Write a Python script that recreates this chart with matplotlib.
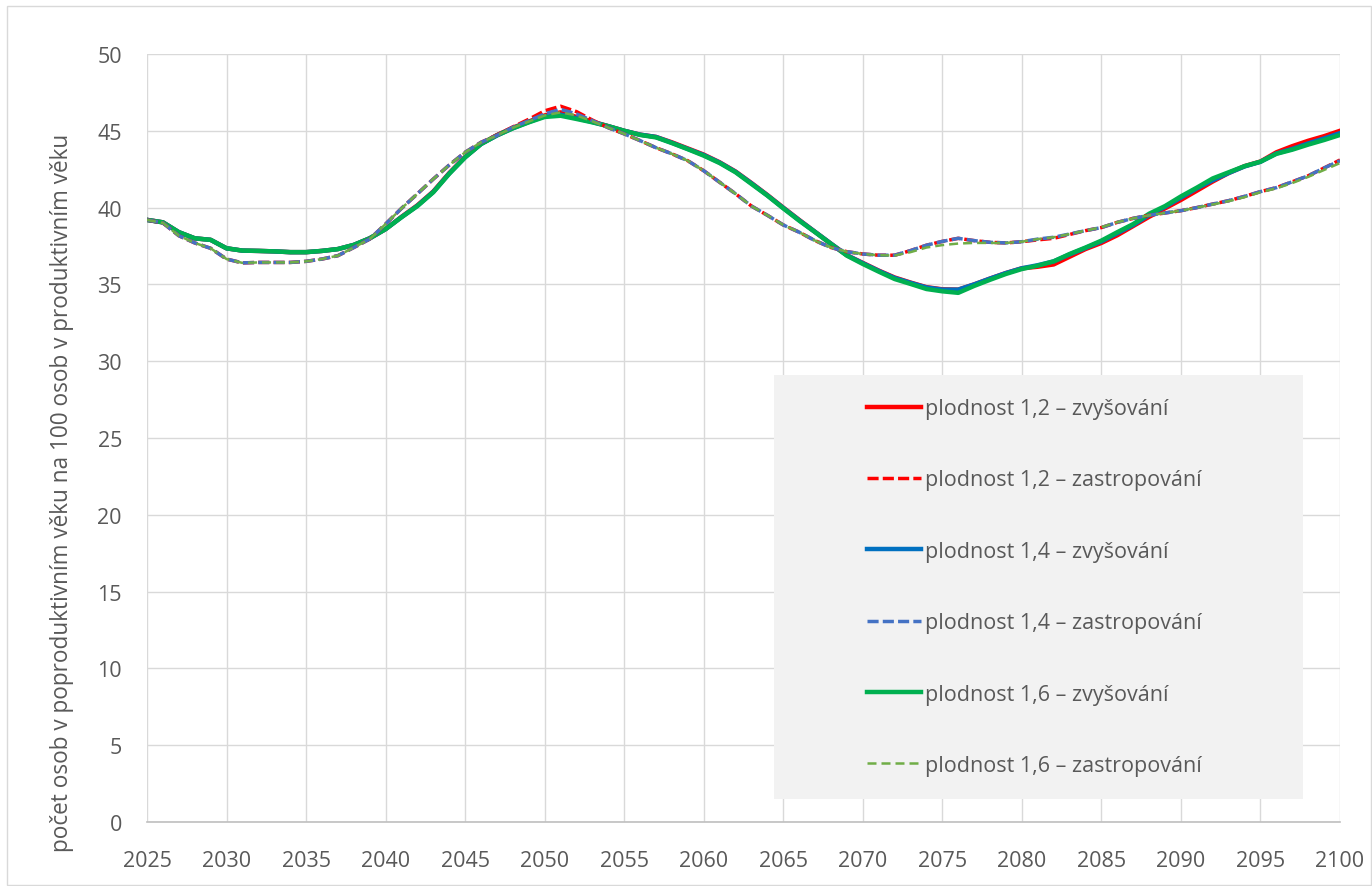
import matplotlib
matplotlib.use("Agg")
import matplotlib.pyplot as plt
from matplotlib.patches import Rectangle

plt.rcParams["font.family"] = ["Open Sans", "DejaVu Sans"]

years = list(range(2025, 2101))

# plodnost 1,2 – zvyšování
red_up = [
    39.2, 39.04, 38.4, 38.0, 37.9, 37.35, 37.2, 37.18, 37.15, 37.1, 37.1, 37.18, 37.3,
    37.57, 38.0, 38.6, 39.4, 40.15, 41.05, 42.25, 43.3, 44.15, 44.72, 45.2, 45.6, 46.0,
    46.2, 45.9, 45.6, 45.3, 45.0, 44.75, 44.6, 44.25, 43.85, 43.45, 42.95, 42.35, 41.6,
    40.82, 40.0, 39.2, 38.42, 37.65, 36.9, 36.4, 35.9, 35.45, 35.12, 34.82, 34.68,
    34.66, 35.0, 35.38, 35.74, 36.05, 36.15, 36.3, 36.8, 37.3, 37.7, 38.2, 38.8,
    39.4, 39.95, 40.5, 41.1, 41.7, 42.25, 42.7, 43.0, 43.6, 44.0, 44.35, 44.65, 45.0,
]
# plodnost 1,2 – zastropování
red_cap = [
    39.2, 39.0, 38.17, 37.7, 37.35, 36.65, 36.4, 36.43, 36.43, 36.43, 36.5, 36.65, 36.87,
    37.4, 37.95, 38.93, 39.95, 40.9, 41.86, 42.77, 43.6, 44.25, 44.72, 45.25, 45.75, 46.3,
    46.6, 46.25, 45.7, 45.2, 44.8, 44.36, 43.9, 43.5, 43.05, 42.4, 41.65, 40.9, 40.1,
    39.5, 38.87, 38.4, 37.85, 37.4, 37.13, 36.98, 36.9, 36.9, 37.2, 37.55, 37.8,
    38.0, 37.85, 37.74, 37.7, 37.78, 37.9, 38.0, 38.25, 38.5, 38.7, 39.04, 39.3,
    39.5, 39.65, 39.8, 40.0, 40.23, 40.45, 40.73, 41.04, 41.3, 41.68, 42.07, 42.58, 43.1,
]
# plodnost 1,4 – zvyšování
blue_up = [
    39.2, 39.04, 38.4, 38.0, 37.9, 37.35, 37.2, 37.18, 37.15, 37.1, 37.1, 37.18, 37.3,
    37.57, 38.0, 38.6, 39.38, 40.12, 41.02, 42.22, 43.28, 44.14, 44.7, 45.17, 45.57, 45.95,
    46.05, 45.82, 45.57, 45.3, 45.0, 44.75, 44.6, 44.22, 43.82, 43.42, 42.93, 42.33, 41.58,
    40.8, 39.98, 39.18, 38.42, 37.65, 36.9, 36.38, 35.88, 35.42, 35.1, 34.8, 34.66,
    34.66, 35.0, 35.38, 35.74, 36.05, 36.25, 36.5, 36.95, 37.37, 37.8, 38.33, 38.87,
    39.52, 40.05, 40.65, 41.25, 41.78, 42.25, 42.68, 42.98, 43.52, 43.82, 44.18, 44.5, 44.85,
]
# plodnost 1,4 – zastropování
blue_cap = [
    39.2, 39.0, 38.17, 37.7, 37.35, 36.65, 36.4, 36.43, 36.43, 36.43, 36.5, 36.65, 36.87,
    37.4, 37.95, 38.93, 39.95, 40.9, 41.86, 42.77, 43.6, 44.25, 44.7, 45.23, 45.66, 46.1,
    46.4, 46.1, 45.66, 45.2, 44.8, 44.36, 43.9, 43.5, 43.05, 42.4, 41.65, 40.9, 40.1,
    39.5, 38.87, 38.4, 37.85, 37.4, 37.13, 36.98, 36.9, 36.9, 37.2, 37.55, 37.8,
    38.0, 37.85, 37.74, 37.7, 37.78, 37.95, 38.07, 38.28, 38.5, 38.7, 39.04, 39.3,
    39.5, 39.65, 39.8, 40.0, 40.23, 40.45, 40.73, 41.04, 41.3, 41.68, 42.07, 42.58, 43.05,
]
# plodnost 1,6 – zvyšování
green_up = [
    39.2, 39.04, 38.4, 38.0, 37.9, 37.35, 37.2, 37.18, 37.15, 37.1, 37.1, 37.18, 37.3,
    37.57, 38.0, 38.6, 39.37, 40.1, 41.0, 42.2, 43.27, 44.14, 44.7, 45.16, 45.55, 45.9,
    45.98, 45.77, 45.55, 45.3, 45.0, 44.73, 44.57, 44.2, 43.8, 43.38, 42.9, 42.3, 41.54,
    40.78, 39.95, 39.15, 38.4, 37.63, 36.87, 36.33, 35.83, 35.35, 35.03, 34.7, 34.55,
    34.45, 34.9, 35.3, 35.68, 36.0, 36.22, 36.5, 36.98, 37.4, 37.85, 38.4, 38.93,
    39.6, 40.1, 40.73, 41.3, 41.9, 42.3, 42.7, 42.99, 43.5, 43.77, 44.1, 44.4, 44.73,
]
# plodnost 1,6 – zastropování
green_cap = [
    39.2, 39.0, 38.17, 37.7, 37.35, 36.65, 36.4, 36.43, 36.43, 36.43, 36.5, 36.65, 36.87,
    37.4, 37.95, 38.93, 39.95, 40.9, 41.86, 42.77, 43.6, 44.25, 44.7, 45.2, 45.6, 46.0,
    46.2, 46.0, 45.62, 45.2, 44.8, 44.36, 43.9, 43.5, 43.05, 42.4, 41.65, 40.9, 40.1,
    39.5, 38.87, 38.4, 37.85, 37.4, 37.13, 36.98, 36.9, 36.88, 37.1, 37.4, 37.56,
    37.66, 37.7, 37.7, 37.7, 37.78, 37.95, 38.07, 38.28, 38.5, 38.72, 39.05, 39.3,
    39.5, 39.65, 39.8, 40.0, 40.2, 40.42, 40.68, 41.0, 41.25, 41.6, 42.0, 42.45, 42.9,
]

labels = [
    "plodnost 1,2 – zvyšování",
    "plodnost 1,2 – zastropování",
    "plodnost 1,4 – zvyšování",
    "plodnost 1,4 – zastropování",
    "plodnost 1,6 – zvyšování",
    "plodnost 1,6 – zastropování",
]

text_col = "#595959"
grid_col = "#d9d9d9"

fig = plt.figure(figsize=(13.72, 8.87), dpi=100)
ax = fig.add_axes([147 / 1372, 1 - 823 / 887, 1193 / 1372, 768 / 887])

# outer chart border
fig.patches.append(Rectangle((7 / 1372, 1 / 887), 1364 / 1372, 879 / 887,
                             transform=fig.transFigure, fill=False,
                             edgecolor=grid_col, linewidth=1))

ax.plot(years, red_up, color="#ff0000", lw=3.2, label=labels[0], zorder=4)
ax.plot(years, red_cap, color="#ff0000", lw=2.5, dashes=(3.2, 1.2), label=labels[1], zorder=5)
ax.plot(years, blue_up, color="#0070c0", lw=3.2, label=labels[2], zorder=4)
ax.plot(years, blue_cap, color="#4472c4", lw=2.5, dashes=(3.2, 1.2), label=labels[3], zorder=5)
ax.plot(years, green_up, color="#00b050", lw=3.2, label=labels[4], zorder=4)
ax.plot(years, green_cap, color="#70ad47", lw=1.8, dashes=(3.6, 2.0), label=labels[5], zorder=5)

ax.set_xlim(2025, 2100)
ax.set_ylim(0, 50)
ax.set_xticks(range(2025, 2101, 5))
ax.set_yticks(range(0, 51, 5))
ax.grid(True, color=grid_col, lw=1)
ax.set_axisbelow(True)
for s in ["top", "right", "left"]:
    ax.spines[s].set_visible(False)
ax.spines["bottom"].set_color("#bfbfbf")
ax.spines["bottom"].set_linewidth(1.2)
ax.tick_params(length=0, labelsize=15.5, colors=text_col)
ax.tick_params(axis="x", pad=20)
ax.tick_params(axis="y", pad=18)

ax.set_ylabel("počet osob v poproduktivním věku na 100 osob v produktivním věku",
              fontsize=16.3, color=text_col)
ax.yaxis.set_label_coords((74 - 147) / 1193, (823 - 493) / 768)

# legend background box
ax.add_patch(Rectangle((627 / 1193, 23 / 768), 529 / 1193, 424 / 768,
                       transform=ax.transAxes, facecolor="#f2f2f2",
                       edgecolor="none", zorder=6))
leg = ax.legend(loc="center left", bbox_to_anchor=((856 - 147) / 1193, (823 - 588) / 768),
                frameon=False, fontsize=15.5, handlelength=2.5, handletextpad=0.2,
                borderpad=0, labelspacing=2.34, labelcolor=text_col)
leg.set_zorder(7)

fig.savefig("out.png", dpi=100)
